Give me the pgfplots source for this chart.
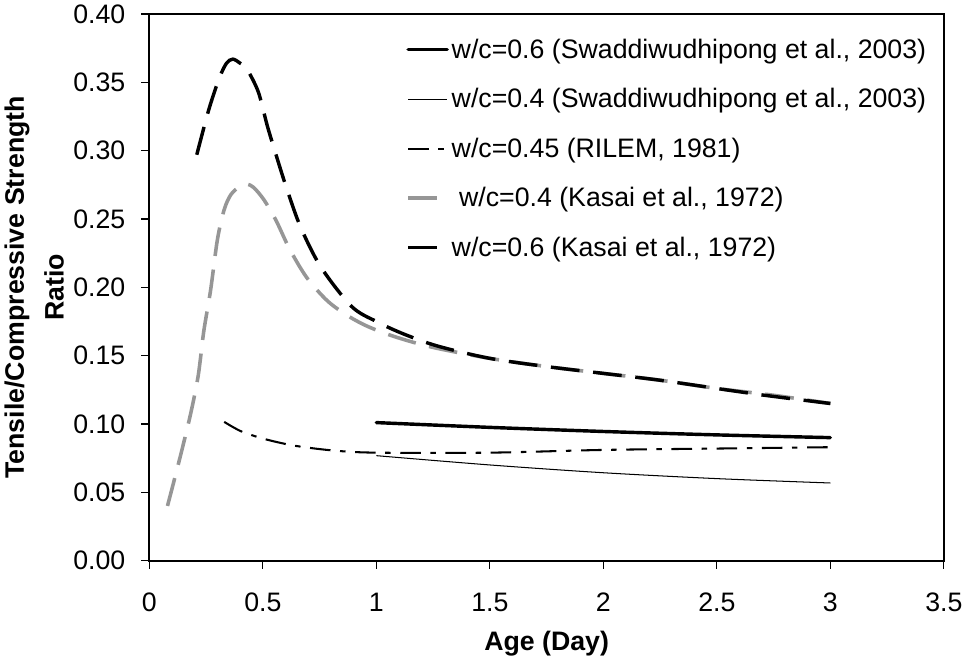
\documentclass[border=0pt]{standalone}
\usepackage{fontspec}
\setmainfont{Liberation Sans}
\usepackage{pgfplots}
\pgfplotsset{compat=1.18}

\newcommand\chartfont{\fontsize{19.5}{23.4}\selectfont}
\definecolor{kgray}{RGB}{150,150,150}

\begin{document}
\begin{tikzpicture}
  \begin{axis}[
    width=580pt, height=399pt,
    scale only axis,
    xmin=0, xmax=3.5,
    ymin=0, ymax=0.40,
    xtick={0,0.5,1,1.5,2,2.5,3,3.5},
    ytick={0,0.05,0.10,0.15,0.20,0.25,0.30,0.35,0.40},
    yticklabel style={/pgf/number format/fixed, /pgf/number format/fixed zerofill,
      /pgf/number format/precision=2},
    /pgf/number format/assume math mode=true,
    tick label style={font=\chartfont},
    tick align=outside,
    major tick length=6pt,
    tick style={black, line width=0.8pt},
    xtick pos=bottom, ytick pos=left,
    axis line style={line width=1.5pt},
    xticklabel shift=14pt,
    yticklabel shift=8pt,
    xlabel={Age (Day)},
    xlabel style={font=\chartfont\bfseries, yshift=-7pt},
    ylabel={Tensile/Compressive Strength\\Ratio},
    ylabel style={font=\fontsize{19.5}{29}\selectfont\bfseries, align=center},
    legend style={draw=none, fill=none, at={(0.318,0.965)}, anchor=north west,
      font=\chartfont, row sep=16.5pt},
    legend cell align=left,
    legend image code/.code={\draw[#1] (0pt,0pt) -- (28.5pt,0pt);},
  ]
    % w/c=0.6 Swaddiwudhipong
    \addplot[black, line width=2.5pt, line cap=round, smooth] coordinates {
      (1,0.101) (1.5,0.0975) (2,0.0945) (2.5,0.092) (3,0.090)
    };
    \addlegendentry{w/c=0.6 (Swaddiwudhipong et al., 2003)}
    % w/c=0.4 Swaddiwudhipong
    \addplot[black, line width=0.75pt, smooth] coordinates {
      (1,0.0768) (1.5,0.070) (2,0.0643) (2.5,0.060) (3,0.0568)
    };
    \addlegendentry{w/c=0.4 (Swaddiwudhipong et al., 2003)}
    % RILEM
    \addplot[black, line width=1.5pt, smooth,
      dash pattern=on 15pt off 7pt on 4pt off 7pt] coordinates {
      (0.33,0.1015) (0.406,0.0945) (0.512,0.0888) (0.643,0.084) (0.815,0.0805)
      (1.0,0.079) (1.5,0.079) (2.0,0.081) (2.5,0.082) (3.0,0.083)
    };
    \addlegendentry{w/c=0.45 (RILEM, 1981)}
    % Kasai w/c=0.4
    \addplot[kgray, line width=2.6pt, smooth, dash pattern=on 21pt off 10pt] coordinates {
      (0.080,0.040) (0.13,0.072) (0.18,0.106) (0.215,0.135) (0.24,0.168)
      (0.27,0.198) (0.30,0.235) (0.33,0.257) (0.36,0.268) (0.40,0.274)
      (0.43,0.2755) (0.46,0.273) (0.505,0.264) (0.558,0.249) (0.618,0.228)
      (0.694,0.207) (0.785,0.190) (0.876,0.179) (0.967,0.171) (1.088,0.1635)
      (1.25,0.156) (1.5,0.148) (1.75,0.142) (2.0,0.137) (2.25,0.132)
      (2.5,0.126) (2.75,0.121) (3.0,0.115)
    };
    \addlegendentry{\ w/c=0.4 (Kasai et al., 1972)}
    % Kasai w/c=0.6
    \addplot[black, line width=2.5pt, smooth, dash pattern=on 21pt off 10pt] coordinates {
      (0.209,0.297) (0.262,0.330) (0.308,0.353) (0.34,0.364) (0.368,0.367)
      (0.40,0.364) (0.429,0.360) (0.48,0.343) (0.52,0.318) (0.56,0.296)
      (0.60,0.275) (0.664,0.245) (0.755,0.215) (0.891,0.186) (1.0,0.175)
      (1.118,0.166) (1.27,0.157) (1.5,0.148) (1.75,0.142) (2.0,0.137)
      (2.25,0.132) (2.54,0.125) (2.71,0.121) (2.95,0.116) (3.0,0.115)
    };
    \addlegendentry{w/c=0.6 (Kasai et al., 1972)}
  \end{axis}
\end{tikzpicture}
\end{document}
